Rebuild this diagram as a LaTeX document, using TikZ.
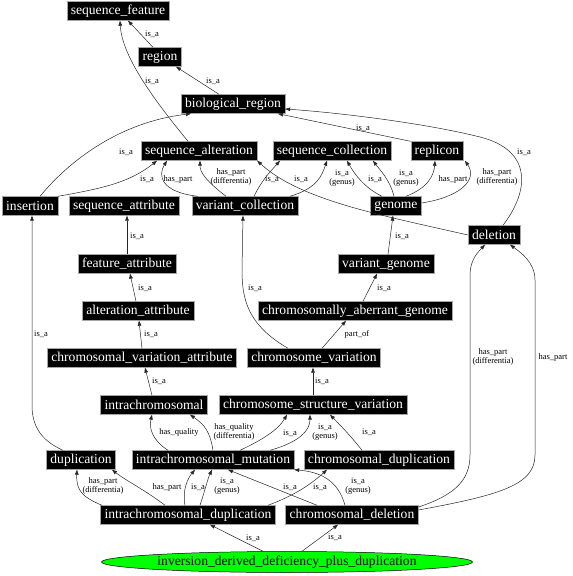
\documentclass[tikz,border=0pt]{standalone}
\usepackage{fontspec}
\setmainfont{Liberation Serif}
\usetikzlibrary{arrows.meta,shapes.geometric}
\begin{document}
\begin{tikzpicture}[x=1pt,y=-1pt,
 box/.style={fill=black,draw=gray!70,text=white,font=\fontsize{13.6}{15}\selectfont,inner xsep=4pt,inner ysep=0pt,minimum height=19pt,line width=0.4pt},
 ell/.style={ellipse,fill=green,draw=black,font=\fontsize{13.6}{15}\selectfont,minimum width=371pt,minimum height=21pt,inner sep=0pt,line width=0.5pt},
 lbl/.style={font=\fontsize{8.5}{8.5}\selectfont,align=center,inner sep=0pt},
 e/.style={draw=black!85,line width=0.5pt,-{Triangle[length=5pt,width=3.6pt]}}]
\useasboundingbox (0,0) rectangle (573,576);
% nodes
\node[box] (sf) at (118,11) {sequence\_feature};
\node[box] (region) at (160,57) {region};
\node[box] (br) at (233,104) {biological\_region};
\node[box] (salt) at (199,151) {sequence\_alteration};
\node[box] (scol) at (332,151) {sequence\_collection};
\node[box] (rep) at (437,151) {replicon};
\node[box] (ins) at (30,206) {insertion};
\node[box] (satt) at (124,206) {sequence\_attribute};
\node[box] (vcol) at (245,206) {variant\_collection};
\node[box] (gen) at (396,206) {genome};
\node[box] (del) at (494,235) {deletion};
\node[box] (fatt) at (127,264) {feature\_attribute};
\node[box] (vgen) at (386,264) {variant\_genome};
\node[box] (aatt) at (138,311) {alteration\_attribute};
\node[box] (cag) at (355,311) {chromosomally\_aberrant\_genome};
\node[box] (cva) at (142,358) {chromosomal\_variation\_attribute};
\node[box] (cvar) at (314,358) {chromosome\_variation};
\node[box] (intra) at (154,405) {intrachromosomal};
\node[box] (csv) at (313,405) {chromosome\_structure\_variation};
\node[box] (dup) at (81,460) {duplication};
\node[box] (icm) at (213,460) {intrachromosomal\_mutation};
\node[box] (cdup) at (379,460) {chromosomal\_duplication};
\node[box] (idup) at (188,515) {intrachromosomal\_duplication};
\node[box] (cdel) at (352,515) {chromosomal\_deletion};
\node[ell] (idd) at (287,562) {inversion\_derived\_deficiency\_plus\_duplication};
% edges
\draw[e] (region.north -| 153,0) -- (sf.south -| 128,0);
\draw[e] (salt.north -| 188,0) .. controls (150,95) and (122,55) .. (sf.south -| 120,0);
\draw[e] (br.north -| 219,0) -- (region.south -| 176,0);
\draw[e] (ins.north -| 40,0) .. controls (70,160) and (120,122) .. (br.south -| 191,0);
\draw[e] (ins.north -| 58,0) .. controls (105,188) and (130,182) .. (salt.south -| 157,0);
\draw[e] (vcol.north -| 198,0) .. controls (160,192) and (158,175) .. (salt.south -| 167,0);
\draw[e] (vcol.north -| 226,0) .. controls (205,180) and (200,172) .. (salt.south -| 200,0);
\draw[e] (vcol.north -| 254,0) .. controls (262,180) and (270,172) .. (scol.south -| 280,0);
\draw[e] (vcol.north -| 290,0) .. controls (318,188) and (322,175) .. (scol.south -| 327,0);
\draw[e] (gen.north -| 382,0) .. controls (365,188) and (355,175) .. (scol.south -| 347,0);
\draw[e] (gen.north -| 394,0) .. controls (390,180) and (380,170) .. (scol.south -| 373,0);
\draw[e] (gen.north -| 406,0) .. controls (428,188) and (434,175) .. (rep.south -| 435,0);
\draw[e] (gen.east |- 0,203) .. controls (460,197) and (478,180) .. (rep.south -| 465,0);
\draw[e] (rep.north west) -- (br.south -| 278,0);
\draw[e] (del.north -| 503,0) .. controls (530,190) and (532,150) .. (480,137) .. controls (420,122) and (330,112) .. (br.east |- 0,109);
\draw[e] (del.west) .. controls (380,215) and (300,200) .. (salt.south east);
\draw[e] (fatt.north -| 127,0) -- (satt.south -| 127,0);
\draw[e] (aatt.north -| 136,0) -- (fatt.south -| 130,0);
\draw[e] (cva.north -| 142,0) -- (aatt.south -| 139,0);
\draw[e] (intra.north -| 152,0) -- (cva.south -| 145,0);
\draw[e] (dup.north -| 63,0) .. controls (40,440) and (32,425) .. (32,405) -- (ins.south -| 32,0);
\draw[e] (cvar.north -| 288,0) .. controls (248,325) and (242,300) .. (242,270) -- (vcol.south -| 243,0);
\draw[e] (vgen.north -| 388,0) -- (gen.south -| 393,0);
\draw[e] (cag.north -| 363,0) -- (vgen.south -| 377,0);
\draw[e] (cvar.north -| 322,0) -- (cag.south -| 346,0);
\draw[e] (csv.north -| 313,0) -- (cvar.south -| 313,0);
\draw[e] (icm.north -| 168,0) .. controls (152,440) and (149,428) .. (intra.south -| 152,0);
\draw[e] (icm.north -| 213,0) .. controls (210,432) and (205,425) .. (intra.south -| 190,0);
\draw[e] (icm.north -| 240,0) .. controls (262,440) and (278,430) .. (csv.south -| 287,0);
\draw[e] (icm.north -| 270,0) .. controls (300,442) and (310,430) .. (csv.south -| 310,0);
\draw[e] (cdup.north -| 362,0) .. controls (350,435) and (340,425) .. (csv.south -| 330,0);
\draw[e] (idup.north -| 102,0) .. controls (82,497) and (76,490) .. (dup.south -| 77,0);
\draw[e] (idup.north -| 165,0) .. controls (145,490) and (125,480) .. (dup.south -| 112,0);
\draw[e] (idup.north -| 185,0) .. controls (182,490) and (188,478) .. (icm.south -| 195,0);
\draw[e] (idup.north -| 200,0) .. controls (205,490) and (208,478) .. (icm.south -| 212,0);
\draw[e] (idup.north -| 268,0) .. controls (295,495) and (310,485) .. (cdup.south -| 327,0);
\draw[e] (cdel.north -| 317,0) -- (icm.south -| 228,0);
\draw[e] (cdel.north -| 345,0) .. controls (338,480) and (320,472) .. (icm.south east);
\draw[e] (idd.north -| 263,0) -- (idup.south -| 210,0);
\draw[e] (idd.north -| 302,0) -- (cdel.south -| 338,0);
\draw[e] (cdel.east |- 0,507) .. controls (455,495) and (470,480) .. (470,455) -- (470,275) .. controls (470,260) and (478,252) .. (del.south -| 485,0);
\draw[e] (cdel.east |- 0,510) .. controls (500,495) and (535,485) .. (535,455) -- (535,280) .. controls (535,262) and (520,252) .. (del.south -| 510,0);
% labels
\node[lbl] (l1) at (152,34) {is\_a};
\node[lbl] (l2) at (152,81) {is\_a};
\node[lbl] (l3) at (213,81) {is\_a};
\node[lbl] (l4) at (126,152) {is\_a};
\node[lbl] (l5) at (363,128) {is\_a};
\node[lbl] (l6) at (524,152) {is\_a};
\node[lbl] (l7) at (147,179) {is\_a};
\node[lbl] (l8) at (178,179) {has\_part};
\node[lbl] (l9) at (231,177) {has\_part\\(differentia)};
\node[lbl] (l10) at (272,179) {is\_a};
\node[lbl] (l11) at (301,179) {is\_a};
\node[lbl] (l12) at (342,178) {is\_a\\(genus)};
\node[lbl] (l13) at (375,179) {is\_a};
\node[lbl] (l14) at (406,178) {is\_a\\(genus)};
\node[lbl] (l15) at (453,179) {has\_part};
\node[lbl] (l16) at (497,177) {has\_part\\(differentia)};
\node[lbl] (l17) at (137,236) {is\_a};
\node[lbl] (l18) at (402,236) {is\_a};
\node[lbl] (l19) at (145,288) {is\_a};
\node[lbl] (l20) at (255,288) {is\_a};
\node[lbl] (l21) at (384,288) {is\_a};
\node[lbl] (l22) at (151,334) {is\_a};
\node[lbl] (l23) at (41,334) {is\_a};
\node[lbl] (l24) at (357,334) {part\_of};
\node[lbl] (l25) at (159,381) {is\_a};
\node[lbl] (l26) at (322,381) {is\_a};
\node[lbl] (l27) at (179,432) {has\_quality};
\node[lbl] (l28) at (234,432) {has\_quality\\(differentia)};
\node[lbl] (l29) at (290,433) {is\_a};
\node[lbl] (l30) at (325,432) {is\_a\\(genus)};
\node[lbl] (l31) at (369,432) {is\_a};
\node[lbl] (l32) at (493,357) {has\_part\\(differentia)};
\node[lbl] (l33) at (553,357) {has\_part};
\node[lbl] (l34) at (103,486) {has\_part\\(differentia)};
\node[lbl] (l35) at (167,487) {has\_part};
\node[lbl] (l36) at (198,487) {is\_a};
\node[lbl] (l37) at (227,486) {is\_a\\(genus)};
\node[lbl] (l38) at (290,487) {is\_a};
\node[lbl] (l39) at (320,487) {is\_a};
\node[lbl] (l40) at (358,486) {is\_a\\(genus)};
\node[lbl] (l41) at (253,538) {is\_a};
\node[lbl] (l42) at (335,537) {is\_a};
\end{tikzpicture}
\end{document}
